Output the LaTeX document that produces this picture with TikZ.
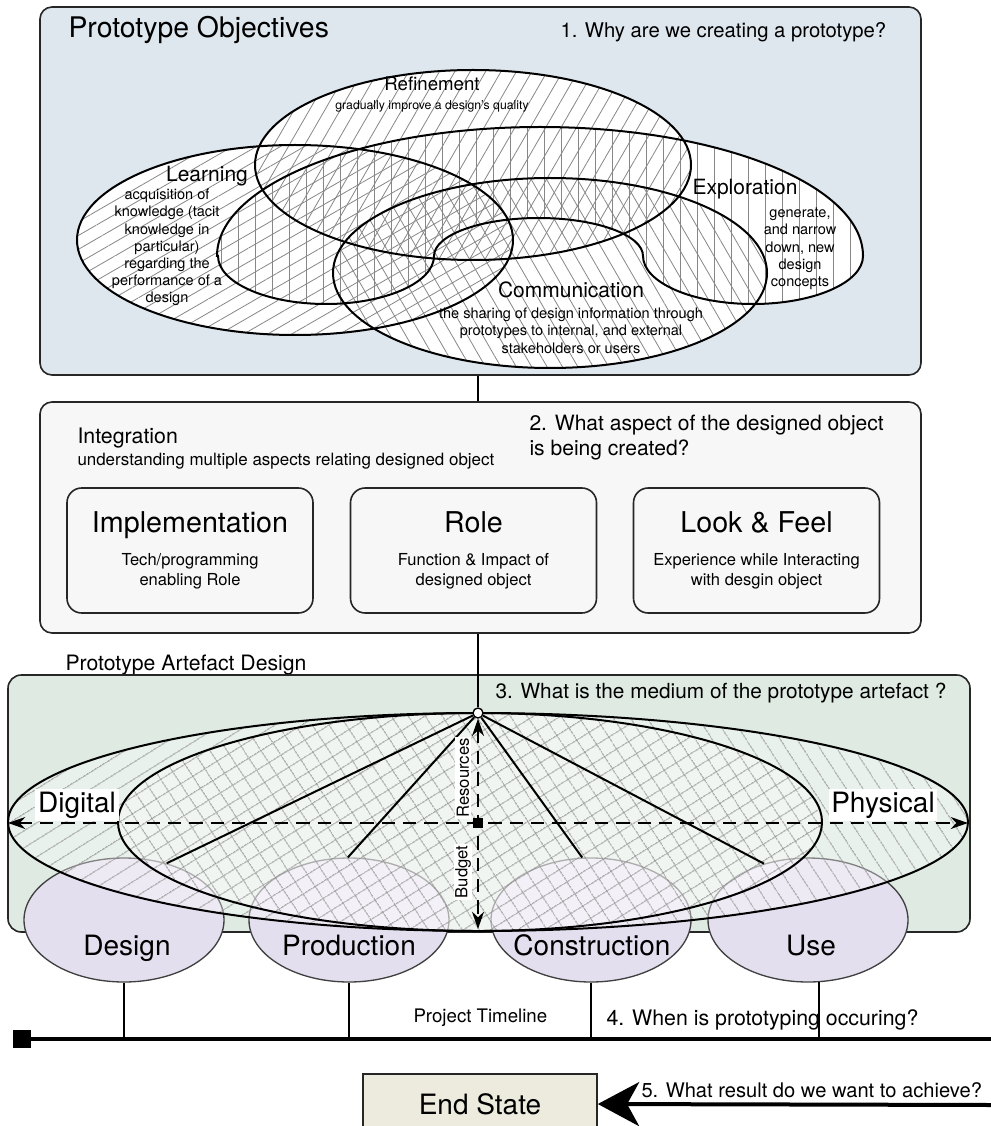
\documentclass[tikz,border=0pt]{standalone}
\usepackage{fontspec}
\setmainfont{TeX Gyre Heros}
\usetikzlibrary{positioning,shapes.geometric,arrows.meta,patterns.meta}

\definecolor{objblue}{RGB}{222,230,238}
\definecolor{integgray}{RGB}{247,247,247}
\definecolor{artgreen}{RGB}{222,234,226}
\definecolor{stagelilac}{RGB}{228,223,238}
\definecolor{endbeige}{RGB}{236,235,221}
\definecolor{hatchgray}{RGB}{135,135,135}

% objective areas
\newcommand\refinementpath{(473,165) ellipse [x radius=218, y radius=95]}
\newcommand\learningpath{(295,240) ellipse [x radius=218, y radius=95]}
\newcommand\communicationpath{(550,273) ellipse [x radius=217, y radius=95]}
\newcommand\explorationpath{(217,256) arc [start angle=180, end angle=360, x radius=323, y radius=129] arc [start angle=0, end angle=180, x radius=110, y radius=48] arc [start angle=0, end angle=-180, x radius=104.5, y radius=38] arc [start angle=0, end angle=180, x radius=108, y radius=48] -- cycle}
% medium areas
\newcommand\digitalpath{(478,713) arc [start angle=-90, end angle=-270, x radius=470, y radius=109] arc [start angle=90, end angle=-90, x radius=344, y radius=109] -- cycle}
\newcommand\physicalpath{(478,713) arc [start angle=-90, end angle=-270, x radius=360, y radius=109] arc [start angle=90, end angle=-90, x radius=490, y radius=109] -- cycle}

\tikzset{every picture/.style={line width=0.75pt}}
\tikzset{
  panel/.style={draw=black!85, line width=1.2pt, rounded corners=9pt, inner sep=0pt},
  aspectbox/.style={draw=black!85, line width=1.2pt, rounded corners=11pt, minimum width=184.5pt, minimum height=93.75pt, inner sep=0pt},
  aspecttitle/.style={anchor=base, inner sep=0pt, font=\fontsize{21.5}{25}\selectfont},
  aspectdesc/.style={anchor=north, align=center, inner sep=0pt, font=\fontsize{12.4}{15}\selectfont},
  heading/.style={anchor=base west, inner sep=0pt, font=\fontsize{21.3}{25}\selectfont},
  question/.style={anchor=base west, inner sep=0pt, font=\fontsize{15.6}{18.75}\selectfont},
  venntitle/.style={anchor=base, inner sep=0pt, font=\fontsize{15.75}{18}\selectfont},
  venndesc/.style={anchor=north, align=center, inner sep=0pt, font=\fontsize{10.9}{12.9}\selectfont},
  venn/.style={line width=1.5pt},
  learnhatch/.style={pattern={Lines[angle=30,distance=9pt,line width=0.6pt]}, pattern color=hatchgray},
  refinehatch/.style={pattern={Lines[angle=60,distance=10pt,line width=0.6pt]}, pattern color=hatchgray},
  explorehatch/.style={pattern={Lines[angle=90,distance=12.75pt,line width=0.6pt]}, pattern color=hatchgray},
  commhatch/.style={pattern={Lines[angle=-60,distance=10pt,line width=0.6pt]}, pattern color=hatchgray},
  digitalhatch/.style={pattern={Lines[angle=32,distance=10.5pt,line width=0.7pt]}, pattern color=hatchgray},
  physicalhatch/.style={pattern={Lines[angle=-57,distance=10.5pt,line width=0.7pt]}, pattern color=hatchgray},
  stage/.style={ellipse, draw=black!75, line width=1pt, fill=stagelilac, minimum width=150pt, minimum height=93pt, inner sep=0pt},
  stagelabel/.style={anchor=base, inner sep=0pt, font=\fontsize{21}{25}\selectfont},
  hubdot/.style={circle, draw, fill=white, line width=1pt, minimum size=7.5pt, inner sep=0pt},
  spoke/.style={line width=1.5pt},
  axisline/.style={line width=1.5pt, dash pattern=on 10pt off 6pt, <->, >={Stealth[length=13pt,width=9pt]}},
  axislabel/.style={fill=white, inner sep=1pt, font=\fontsize{12.5}{14}\selectfont},
  sidelabel/.style={fill=white, inner sep=2pt, font=\fontsize{21}{25}\selectfont},
  link/.style={line width=1.1pt},
  drop/.style={line width=1pt},
  endbox/.style={draw=black!85, fill=endbeige, line width=1.2pt, minimum width=175.5pt, minimum height=45pt, inner sep=0pt, font=\fontsize{21}{25}\selectfont},
  resultarrow/.style={line width=3pt, -{Stealth[length=31pt,width=33pt,inset=9pt]}}
}

\begin{document}
\begin{tikzpicture}[x=0.75pt,y=0.75pt,yscale=-1,xscale=1]
\useasboundingbox (0,0) rectangle (990,1126);

%1. objectives panel
\node[panel, fill=objblue, minimum width=660.75pt, minimum height=276pt] (objectives) at (480.5,191) {};
\node[heading] (objtitle) at (68,38) {Prototype Objectives};
\node[question, font=\fontsize{15.2}{18}\selectfont] (qone) at (560,38) {1. Why are we creating a prototype?};

% objective areas: fill, hatch, outline
\fill[white] \learningpath;
\fill[white] \refinementpath;
\fill[white] \explorationpath;
\fill[white] \communicationpath;
\path[learnhatch] \learningpath;
\path[refinehatch] \refinementpath;
\path[explorehatch] \explorationpath;
\path[commhatch] \communicationpath;
\draw[venn] \learningpath;
\draw[venn] \refinementpath;
\draw[venn] \explorationpath;
\draw[venn] \communicationpath;

% objective texts
\node[venntitle, font=\fontsize{14}{16}\selectfont] (refinement) at (432,91) {Refinement};
\node[venntitle, font=\fontsize{9.2}{11}\selectfont] (refinementdesc) at (432,110) {gradually improve a design's quality};
\node[venntitle] (learning) at (207,182) {Learning};
\node[venndesc] (learningdesc) at (167,188.5) {acquisition of\\knowledge (tacit\\knowledge in\\particular)\\regarding the\\performance of a\\design};
\node[venntitle] (exploration) at (745,195) {Exploration};
\node[venndesc] (explorationdesc) at (800,207.5) {generate,\\and narrow\\down, new\\design\\concepts};
\node[venntitle] (communication) at (571,298) {Communication};
\node[venndesc] (communicationdesc) at (571,307.5) {the sharing of design information through\\prototypes to internal, and external\\stakeholders or users};

%2. integration panel
\node[panel, fill=integgray, minimum width=660.75pt, minimum height=173.25pt] (integration) at (480.5,517.5) {};
\node[heading, font=\fontsize{16}{19}\selectfont] (integtitle) at (77,443) {Integration};
\node[heading, font=\fontsize{12.7}{15}\selectfont] (integdesc) at (77,465) {understanding multiple aspects relating designed object};
\node[question, anchor=north west, align=left, font=\fontsize{15.8}{18.75}\selectfont] (qtwo) at (529,415) {2. What aspect of the designed object\\is being created?};

\node[aspectbox] (implementation) at (190,550.5) {};
\node[aspecttitle] (impltitle) at (190,532) {Implementation};
\node[aspectdesc] (impldesc) at (190,553) {Tech/programming\\enabling Role};
\node[aspectbox] (role) at (473.5,550.5) {};
\node[aspecttitle] (roletitle) at (473.5,532) {Role};
\node[aspectdesc] (roledesc) at (473.5,553) {Function \& Impact of\\designed object};
\node[aspectbox] (lookfeel) at (756.5,550.5) {};
\node[aspecttitle] (lookfeeltitle) at (756.5,532) {Look \& Feel};
\node[aspectdesc] (lookfeeldesc) at (756.5,553) {Experience while Interacting\\with desgin object};

%3. artefact panel
\node[heading, font=\fontsize{15.9}{19}\selectfont] (arttitle) at (65,670) {Prototype Artefact Design};
\node[panel, fill=artgreen, rounded corners=10pt, minimum width=721.5pt, minimum height=192.75pt] (artefact) at (489,803.5) {};
\node[question] (qthree) at (495,698) {3. What is the medium of the prototype artefact ?};

\node[stage] (design) at (124,920) {};
\node[stage] (production) at (349,920) {};
\node[stage] (construction) at (591,920) {};
\node[stage] (use) at (808,920) {};

% medium areas
\fill[white, fill opacity=0.35] \digitalpath;
\fill[white, fill opacity=0.35] \physicalpath;
\path[digitalhatch] \digitalpath;
\path[physicalhatch] \physicalpath;
\draw[venn] \digitalpath;
\draw[venn] \physicalpath;

\node[stagelabel] (designlabel) at (127,955) {Design};
\node[stagelabel] (productionlabel) at (349,955) {Production};
\node[stagelabel] (constructionlabel) at (592,955) {Construction};
\node[stagelabel] (uselabel) at (811,955) {Use};

\node[hubdot] (hub) at (478,713) {};
\draw[spoke] (hub) -- (design.53);
\draw[spoke] (hub) -- (production.91);
\draw[spoke] (hub) -- (construction.98);
\draw[spoke] (hub) -- (use.128);

\coordinate (digitalend) at (8,823);
\coordinate (physicalend) at (968,823);
\coordinate (budgetend) at (478,929);
\draw[axisline] (digitalend) -- (physicalend);
\draw[axisline] (hub) -- (budgetend);
\node[fill=black, minimum size=7.5pt, inner sep=0pt] (centre) at (478,823) {};
\node[axislabel, rotate=90] (resources) at (463,778) {Resources};
\node[axislabel, rotate=90] (budget) at (463,872) {Budget};
\node[sidelabel] (digital) at (77,805) {Digital};
\node[sidelabel] (physical) at (883,805) {Physical};

% panel links
\draw[link] (objectives.south -| hub) -- (integration.north -| hub);
\draw[link] (integration.south -| hub) -- (hub);

%4. timeline
\node[fill=black, minimum width=14pt, minimum height=13.5pt, inner sep=0pt] (tlstart) at (22,1039) {};
\coordinate (tlend) at (995,1039);
\draw[line width=3.2pt] (tlstart.center) -- (tlend);
\draw[drop] (design.south) -- (design.south |- tlstart);
\draw[drop] (production.south) -- (production.south |- tlstart);
\draw[drop] (construction.south) -- (construction.south |- tlstart);
\draw[drop] (use.-80) -- (use.-80 |- tlstart);
\node[heading, font=\fontsize{14}{16}\selectfont] (timelinelabel) at (413,1022) {Project Timeline};
\node[question, font=\fontsize{16}{19}\selectfont] (qfour) at (606,1025) {4. When is prototyping occuring?};

%5. end state
\node[endbox] (endstate) at (480,1104) {End State};
\coordinate (resultstart) at (992,1105);
\draw[resultarrow] (resultstart) -- (endstate.east);
\node[question, font=\fontsize{15.1}{18}\selectfont] (qfive) at (641,1097) {5. What result do we want to achieve?};

\end{tikzpicture}
\end{document}
